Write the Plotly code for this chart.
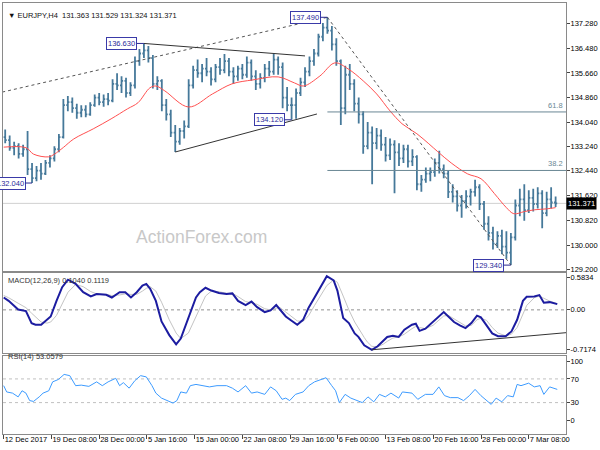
import plotly.graph_objects as go

# ---------------- data ----------------
# bar index (H4 bars counted from 12 Dec 2017 00:00), sampled every 3rd bar
bar_index = list(range(1, 371, 3))

open_ = [133.55, 133.45, 133.20, 133.25, 133.00, 133.15, 132.50, 132.20, 132.45, 132.35,
         132.70, 132.85, 133.15, 133.55, 134.60, 134.70, 134.50, 134.35, 134.45, 134.30,
         134.60, 134.85, 134.70, 134.80, 134.75, 135.30, 135.25, 135.40, 135.00, 135.25,
         136.05, 136.30, 136.40, 136.15, 135.30, 135.40, 134.60, 134.30, 133.70, 133.40,
         133.75, 133.90, 135.25, 135.75, 135.65, 135.80, 135.70, 135.45, 135.85, 135.75,
         136.05, 135.70, 135.55, 135.80, 135.60, 136.00, 135.55, 135.30, 135.50, 135.80,
         135.70, 136.10, 135.85, 134.85, 134.60, 134.60, 135.00, 135.35, 135.70, 136.05,
         136.30, 136.85, 137.15, 137.05, 136.60, 136.05, 134.50, 135.60, 135.30, 134.65,
         134.30, 133.25, 133.70, 133.35, 133.60, 133.30, 132.95, 133.30, 133.05, 132.85,
         133.15, 132.75, 132.90, 132.00, 132.15, 132.35, 132.40, 132.70, 132.50, 132.35,
         131.75, 131.60, 131.30, 131.45, 131.60, 131.75, 131.90, 131.35, 130.70, 130.40,
         130.05, 130.30, 129.95, 129.75, 130.25, 131.30, 131.50, 131.15, 131.55, 131.35,
         131.70, 131.05, 131.50, 131.40]
high = [133.80, 133.60, 133.40, 133.35, 133.30, 133.75, 132.70, 132.60, 132.70, 132.80,
        132.95, 133.25, 133.65, 134.80, 134.90, 134.85, 134.65, 134.60, 134.60, 134.70,
        134.95, 135.00, 134.95, 135.00, 135.45, 135.65, 135.55, 135.50, 135.35, 136.20,
        136.45, 136.63, 136.55, 136.25, 135.55, 135.45, 134.80, 134.45, 133.95, 133.85,
        134.10, 135.45, 135.90, 136.10, 135.95, 136.15, 135.85, 135.95, 136.15, 136.28,
        136.15, 135.85, 135.90, 135.95, 136.20, 136.10, 135.75, 135.65, 135.95, 136.05,
        136.28, 136.20, 136.00, 135.20, 134.85, 135.15, 135.50, 135.85, 136.20, 136.45,
        136.95, 137.30, 137.49, 137.20, 136.80, 136.10, 135.90, 135.95, 135.45, 134.85,
        134.40, 134.05, 133.90, 133.85, 133.80, 133.55, 133.50, 133.45, 133.35, 133.30,
        133.30, 133.15, 132.95, 132.30, 132.55, 132.55, 132.85, 133.10, 132.65, 132.45,
        132.00, 131.80, 131.65, 131.80, 131.85, 132.15, 132.00, 131.45, 130.95, 130.60,
        130.45, 130.50, 130.45, 130.40, 131.50, 131.85, 132.00, 131.80, 131.85, 131.90,
        131.80, 131.75, 131.90, 131.60]
low = [133.35, 133.10, 132.95, 132.85, 132.90, 132.30, 132.04, 132.10, 132.15, 132.30,
       132.55, 132.75, 133.05, 133.50, 134.40, 134.35, 134.15, 134.20, 134.20, 134.25,
       134.55, 134.60, 134.55, 134.60, 134.70, 135.10, 135.00, 134.85, 134.90, 135.15,
       135.90, 136.15, 136.00, 135.15, 135.10, 134.40, 134.10, 133.55, 133.06, 133.30,
       133.50, 133.85, 135.15, 135.50, 135.35, 135.55, 135.25, 135.35, 135.60, 135.65,
       135.55, 135.30, 135.40, 135.45, 135.50, 135.40, 135.10, 135.15, 135.35, 135.55,
       135.60, 135.60, 134.50, 134.40, 134.12, 134.15, 134.90, 135.20, 135.55, 135.90,
       136.20, 136.70, 136.95, 136.40, 135.90, 133.95, 134.30, 135.10, 134.40, 134.00,
       133.00, 133.15, 132.00, 133.15, 133.10, 132.75, 132.80, 131.70, 132.60, 132.70,
       132.55, 132.60, 131.80, 131.75, 132.05, 132.10, 132.25, 132.35, 132.20, 131.55,
       131.40, 131.10, 130.90, 131.20, 131.30, 131.60, 131.15, 130.50, 130.15, 129.85,
       129.90, 129.70, 129.55, 129.34, 130.15, 130.95, 130.80, 131.05, 131.10, 131.20,
       130.55, 130.95, 131.20, 131.25]
close = [133.45, 133.20, 133.25, 133.00, 133.15, 132.50, 132.20, 132.45, 132.35, 132.70,
         132.85, 133.15, 133.55, 134.60, 134.70, 134.50, 134.35, 134.45, 134.30, 134.60,
         134.85, 134.70, 134.80, 134.75, 135.30, 135.25, 135.40, 135.00, 135.25, 136.05,
         136.30, 136.40, 136.15, 135.30, 135.40, 134.60, 134.30, 133.70, 133.40, 133.75,
         133.90, 135.25, 135.75, 135.65, 135.80, 135.70, 135.45, 135.85, 135.75, 136.05,
         135.70, 135.55, 135.80, 135.60, 136.00, 135.55, 135.30, 135.50, 135.80, 135.70,
         136.10, 135.85, 134.85, 134.60, 134.60, 135.00, 135.35, 135.70, 136.05, 136.30,
         136.85, 137.15, 137.05, 136.60, 136.05, 134.50, 135.60, 135.30, 134.65, 134.30,
         133.25, 133.70, 133.35, 133.60, 133.30, 132.95, 133.30, 133.05, 132.85, 133.15,
         132.75, 132.90, 132.00, 132.15, 132.35, 132.40, 132.70, 132.50, 132.35, 131.75,
         131.60, 131.30, 131.45, 131.60, 131.75, 131.90, 131.35, 130.70, 130.40, 130.05,
         130.30, 129.95, 129.75, 130.25, 131.30, 131.50, 131.15, 131.55, 131.35, 131.70,
         131.05, 131.50, 131.40, 131.37]

ma_x = [0, 15, 20, 30, 34, 40, 47, 60, 72, 83, 90, 98, 102, 108, 124, 140, 153, 167, 184,
        195, 201, 212, 222, 231, 241, 250, 259, 267, 277, 285, 291, 300, 311, 320, 329,
        337, 342, 349, 356, 364, 370]
ma_v = [133.22, 133.20, 132.99, 132.90, 132.99, 133.21, 133.49, 133.82, 134.15, 134.48,
        134.68, 135.17, 135.23, 135.07, 134.54, 134.97, 135.30, 135.43, 135.53, 135.33,
        135.23, 135.56, 135.99, 135.79, 135.40, 134.97, 134.41, 133.99, 133.66, 133.33,
        133.07, 132.70, 132.34, 132.18, 131.69, 131.23, 131.03, 131.10, 131.16, 131.19,
        131.23]

macd_x = [0, 3.3, 9.7, 14.9, 18.7, 21.3, 25.1, 29, 31.5, 35.4, 39.2, 43.1, 48.2, 53.3, 58.4,
          62.3, 68.7, 72.5, 77.7, 81.5, 85.3, 89.2, 93, 95.6, 98.2, 102, 105.8, 111, 115.6,
          118.7, 123.8, 128.9, 131.5, 135.3, 139.2, 144.3, 149.4, 153.3, 157.1, 162.2, 166.1,
          169.9, 175, 178.9, 182.7, 185.3, 189.1, 193, 196.8, 200.7, 204.5, 208.4, 212.2,
          216.6, 221.2, 223.7, 227.6, 231.4, 235.3, 237.8, 241.7, 243.7, 246.8, 250.7, 254.5,
          257.1, 260.9, 264.8, 268.6, 273.7, 276.3, 278.8, 282.7, 287.8, 291.7, 295, 298.1,
          301.9, 305.8, 309.6, 313.5, 317.3, 319.9, 323.7, 327.5, 331.4, 336.5, 340.4, 344.2,
          348.1, 350.6, 355.7, 359.1, 362.1, 366, 371.1]
macd_main = [0.224, 0.163, 0.007, -0.023, -0.24, -0.27, -0.27, -0.18, -0.12, 0.163, 0.41,
             0.546, 0.47, 0.32, 0.243, 0.286, 0.274, 0.224, 0.32, 0.32, 0.224, 0.32, 0.44,
             0.47, 0.38, 0.163, -0.21, -0.457, -0.624, -0.52, -0.148, 0.224, 0.32, 0.40, 0.35,
             0.305, 0.286, 0.298, 0.163, 0.088, 0.15, 0.05, -0.04, -0.01, 0.088, 0.007, -0.12,
             -0.197, -0.27, -0.18, 0.044, 0.224, 0.41, 0.61, 0.535, 0.35, -0.148, -0.24,
             -0.427, -0.488, -0.643, -0.674, -0.723, -0.66, -0.55, -0.49, -0.47, -0.49, -0.36,
             -0.27, -0.25, -0.38, -0.34, -0.21, -0.12, -0.04, -0.12, -0.22, -0.28, -0.33,
             -0.24, -0.105, -0.135, -0.27, -0.427, -0.476, -0.476, -0.39, -0.18, 0.163, 0.236,
             0.243, 0.268, 0.13, 0.14, 0.104]
macd_signal = [0.26, 0.22, 0.12, 0.04, -0.06, -0.13, -0.22, -0.24, -0.22, -0.10, 0.10, 0.32,
               0.46, 0.42, 0.33, 0.29, 0.28, 0.26, 0.27, 0.29, 0.28, 0.28, 0.34, 0.39, 0.42,
               0.34, 0.14, -0.18, -0.42, -0.52, -0.42, -0.12, 0.05, 0.25, 0.34, 0.33, 0.30,
               0.30, 0.24, 0.15, 0.13, 0.10, 0.02, 0.0, 0.03, 0.04, -0.04, -0.12, -0.20, -0.21,
               -0.10, 0.08, 0.25, 0.44, 0.54, 0.50, 0.25, 0.00, -0.22, -0.34, -0.50, -0.58,
               -0.66, -0.67, -0.62, -0.57, -0.51, -0.49, -0.44, -0.34, -0.30, -0.32, -0.34,
               -0.28, -0.19, -0.11, -0.10, -0.16, -0.23, -0.29, -0.28, -0.18, -0.15, -0.19,
               -0.32, -0.42, -0.47, -0.44, -0.32, -0.08, 0.08, 0.22, 0.25, 0.21, 0.16, 0.112]

rsi_x = [0, 2.0, 5.9, 9.7, 12.3, 14.9, 17.4, 20, 23.8, 26.4, 30.2, 32.8, 36.6, 40.5, 44.3,
         48.2, 52, 57.1, 62.3, 66.1, 70, 75.1, 77.7, 80.2, 84.1, 87.9, 91.8, 95.6, 99.4, 102,
         105.8, 109.7, 113.5, 116.1, 118.7, 122.5, 125.1, 128.9, 134, 137.9, 143, 149.4,
         153.3, 157.1, 162.2, 166.1, 169.9, 175, 178.9, 182.7, 186.6, 189.1, 191.7, 195.6,
         200.7, 204.5, 208.4, 212.2, 216.1, 219.9, 222.5, 225, 228.9, 232.7, 236.6, 240.4,
         244.2, 248.1, 251.9, 255.8, 259.6, 264.8, 267.3, 273.7, 277.6, 282.7, 287.8, 291.7,
         295.5, 299.4, 304.5, 308.3, 312.2, 316, 319.9, 323.7, 326.8, 330.1, 333.9, 337.8,
         341.6, 344.2, 346.8, 351.9, 355.7, 359.6, 362.1, 366, 371.1]
rsi_v = [58.6, 48, 46, 39.7, 50, 46, 33.4, 32, 39.7, 46, 50, 65, 69, 77.6, 75.5, 58.6, 59.5,
         57.4, 65, 58.6, 65, 71, 58.6, 63.7, 54.4, 67, 75.5, 73.4, 58.6, 46, 37.6, 33.4, 29.2,
         33.4, 48, 46, 58.6, 60.7, 58.6, 56.5, 58.6, 58.6, 54.4, 48, 58.6, 46, 48, 43.9, 56.5,
         50, 35.5, 37.6, 33.4, 43.9, 48, 58.6, 65, 69, 72, 58.6, 50, 30, 43.9, 37.6, 33.4,
         30, 39.7, 31.3, 43.9, 39.7, 46, 37.6, 48, 46, 35.5, 43.9, 43.9, 56.5, 41.8, 38.4,
         38.4, 33.4, 41.8, 52.3, 41.8, 33.4, 27, 37.6, 31.3, 41.8, 39.7, 60.7, 58.6, 62.8,
         56.5, 58.6, 43.9, 56.5, 52.3]

# trendlines: (bar0, price0, bar1, price1)
dotted_lines = [(-1, 135.03, 217, 137.49), (217, 137.49, 340, 129.34)]
solid_lines = [(94, 136.63, 202, 136.22), (115, 133.06, 210, 134.31)]
macd_trend = (246.8, -0.723, 377, -0.413)
fib_start = 217
fib_levels = [134.377, 132.453]
fib_names = ["61.8", "38.2"]
price_labels = [(19, 132.04, "132.040"), (94, 136.63, "136.630"), (193, 134.12, "134.120"),
                (217, 137.49, "137.490"), (340, 129.34, "129.340")]
current_price = 131.371

price_ticks = [137.28, 136.48, 135.66, 134.86, 134.04, 133.24, 132.44, 131.62, 130.82, 130.00, 129.20]
price_tick_text = ["137.280", "136.480", "135.660", "134.860", "134.040", "133.240",
                   "132.440", "131.620", "130.820", "130.000", "129.200"]
macd_ticks = [0.5834, 0.0, -0.7174]
macd_tick_text = ["0.5834", "0.00", "-0.7174"]
rsi_ticks = [100, 70, 30, 0]
time_ticks = [0, 32, 64, 96, 128, 160, 192, 224, 256, 288, 320, 352]
time_tick_text = ["12 Dec 2017", "19 Dec 08:00", "28 Dec 00:00", "5 Jan 16:00", "15 Jan 00:00",
                  "22 Jan 08:00", "29 Jan 16:00", "6 Feb 00:00", "13 Feb 08:00", "20 Feb 16:00",
                  "28 Feb 00:00", "7 Mar 08:00"]

# ---------------- style ----------------
FONT = "Liberation Sans, Arial, sans-serif"
FS = 7.5
BAR = "#46799a"
BORDER = "#8a8a8a"
x_range = [-0.47, 376.96]

fig = go.Figure()
fig.add_trace(go.Ohlc(
    x=bar_index, open=open_, high=high, low=low, close=close,
    increasing=dict(line=dict(color=BAR, width=1.8)),
    decreasing=dict(line=dict(color=BAR, width=1.8)),
    tickwidth=0.35, xaxis="x", yaxis="y", showlegend=False, hoverinfo="skip"))
fig.add_trace(go.Scatter(x=ma_x, y=ma_v, mode="lines", line=dict(color="#ff5050", width=1, shape="spline"),
                         xaxis="x", yaxis="y", showlegend=False, hoverinfo="skip"))
fig.add_trace(go.Scatter(x=macd_x, y=macd_signal, mode="lines", line=dict(color="#c4c4c4", width=1),
                         xaxis="x2", yaxis="y2", showlegend=False, hoverinfo="skip"))
fig.add_trace(go.Scatter(x=macd_x, y=macd_main, mode="lines", line=dict(color="#1c1ca0", width=2),
                         xaxis="x2", yaxis="y2", showlegend=False, hoverinfo="skip"))
fig.add_trace(go.Scatter(x=rsi_x, y=rsi_v, mode="lines", line=dict(color="#3d9bff", width=1),
                         xaxis="x3", yaxis="y3", showlegend=False, hoverinfo="skip"))

shapes = []
for (x0, y0, x1, y1) in dotted_lines:
    shapes.append(dict(type="line", xref="x", yref="y", x0=x0, y0=y0, x1=x1, y1=y1,
                       line=dict(color="#555555", width=1, dash="dot")))
for (x0, y0, x1, y1) in solid_lines:
    shapes.append(dict(type="line", xref="x", yref="y", x0=x0, y0=y0, x1=x1, y1=y1,
                       line=dict(color="#333333", width=1)))
for lv in fib_levels:
    shapes.append(dict(type="line", xref="x", yref="y", x0=fib_start, y0=lv, x1=x_range[1], y1=lv,
                       line=dict(color="#6a8794", width=1)))
shapes.append(dict(type="line", xref="x", yref="y", x0=x_range[0], y0=current_price, x1=x_range[1],
                   y1=current_price, line=dict(color="#d0d0d0", width=1), layer="below"))
x0, y0, x1, y1 = macd_trend
shapes.append(dict(type="line", xref="x2", yref="y2", x0=x0, y0=y0, x1=x1, y1=y1,
                   line=dict(color="#333333", width=1)))
shapes.append(dict(type="line", xref="x2", yref="y2", x0=x_range[0], y0=0, x1=x_range[1], y1=0,
                   line=dict(color="#909090", width=1, dash="dot"), layer="below"))
for lv in (70, 30):
    shapes.append(dict(type="line", xref="x3", yref="y3", x0=x_range[0], y0=lv, x1=x_range[1], y1=lv,
                       line=dict(color="#c0c0c0", width=1, dash="dot"), layer="below"))

ann = []
for (bx, p, t) in price_labels:
    ann.append(dict(x=bx, y=p, xref="x", yref="y", text=t, showarrow=True, arrowhead=0,
                    arrowwidth=1, arrowcolor="#2a2a90", ax=-22, ay=0, axref="pixel", ayref="pixel",
                    bgcolor="white", bordercolor="#3a3aa8", borderwidth=1, borderpad=1,
                    font=dict(family=FONT, size=7.5, color="#2a2a9a")))
for name, lv in zip(fib_names, fib_levels):
    ann.append(dict(x=x_range[1], y=lv, xref="x", yref="y", text=name, showarrow=False,
                    xanchor="right", yanchor="bottom", xshift=-1,
                    font=dict(family=FONT, size=FS, color="#6a8794")))
ann.append(dict(x=1, y=current_price, xref="paper", yref="y", text="131.371", showarrow=False,
                xanchor="left", xshift=0, bgcolor="black", borderpad=1,
                font=dict(family=FONT, size=FS, color="white")))
ann.append(dict(x=0.352, y=0.458, xref="paper", yref="paper", text="ActionForex.com", showarrow=False,
                font=dict(family=FONT, size=17.5, color="#c8c8c8")))
ann.append(dict(x=0.006, y=0.986, xref="paper", yref="paper", xanchor="left",
                text="▼ EURJPY,H4  131.363 131.529 131.324 131.371", showarrow=False,
                font=dict(family=FONT, size=7.5, color="#111111")))
ann.append(dict(x=0.006, y=0.356, xref="paper", yref="paper", xanchor="left",
                text="MACD(12,26,9) 0.1040 0.1119", showarrow=False,
                font=dict(family=FONT, size=FS, color="#333333")))
ann.append(dict(x=0.006, y=0.164, xref="paper", yref="paper", xanchor="left",
                text="RSI(14) 53.0579", showarrow=False,
                font=dict(family=FONT, size=FS, color="#333333")))

axis_common = dict(showgrid=False, zeroline=False, showline=True, mirror=True,
                   linecolor=BORDER, linewidth=1)
yaxis_common = dict(axis_common, side="right", ticks="outside", ticklen=3, tickcolor="#444444",
                    ticklabelstandoff=-1,
                    tickfont=dict(family=FONT, size=FS, color="black"))

fig.update_layout(
    width=600, height=450,
    margin=dict(l=2, r=33, t=2, b=16),
    paper_bgcolor="white", plot_bgcolor="white",
    showlegend=False,
    xaxis=dict(axis_common, domain=[0, 1], range=x_range, anchor="y", showticklabels=False,
               rangeslider=dict(visible=False)),
    xaxis2=dict(axis_common, domain=[0, 1], range=x_range, anchor="y2", matches="x",
                showticklabels=False),
    xaxis3=dict(axis_common, domain=[0, 1], range=x_range, anchor="y3", matches="x",
                tickvals=time_ticks, ticktext=time_tick_text, ticks="outside", ticklen=4,
                tickcolor="#444444", ticklabelposition="outside right", tickangle=0,
                ticklabelstandoff=-2,
                tickfont=dict(family=FONT, size=FS, color="black")),
    yaxis=dict(yaxis_common, domain=[0.3773, 1], range=[129.134, 137.96], anchor="x",
               tickvals=price_ticks, ticktext=price_tick_text),
    yaxis2=dict(yaxis_common, domain=[0.1882, 0.3734], range=[-0.779, 0.6665], anchor="x2",
                tickvals=macd_ticks, ticktext=macd_tick_text),
    yaxis3=dict(yaxis_common, domain=[0, 0.1806], range=[-23, 108.4], anchor="x3",
                tickvals=rsi_ticks, ticktext=[str(v) for v in rsi_ticks]),
    shapes=shapes,
    annotations=ann,
)

fig.write_html("out.html", config={"displayModeBar": False},
               post_script="document.body.style.margin='0';document.body.style.overflow='hidden';")
